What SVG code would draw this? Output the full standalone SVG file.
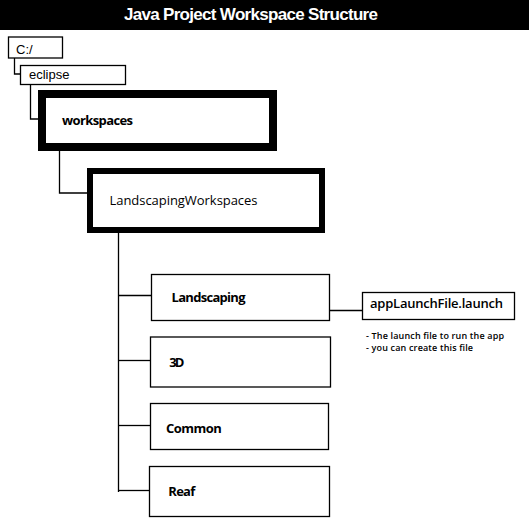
<svg xmlns="http://www.w3.org/2000/svg" width="529" height="531" viewBox="0 0 529 531">
<style>
.box{fill:#fff;stroke:#000;stroke-width:1.3}
.thick{fill:#fff;stroke:#000}
.conn line,.conn polyline{fill:none;stroke:#000;stroke-width:1.3}
.ar{font-family:"Liberation Sans",Arial,sans-serif;font-size:13px;fill:#000}
.cal{font-family:"Open Sans","Noto Sans",sans-serif;font-size:13px;fill:#000}
.b{font-weight:bold}
.note{font-family:"Open Sans","Noto Sans",sans-serif;font-size:9px;font-weight:600;fill:#000}
</style>
<rect x="0" y="0" width="529" height="531" fill="#fff"/>
<g id="title">
<rect x="0" y="0" width="529" height="30" fill="#000"/>
<text x="251" y="20" text-anchor="middle" font-family="Liberation Sans,Arial,sans-serif" font-weight="bold" font-size="17" fill="#fff" textLength="254">Java Project Workspace Structure</text>
</g>
<g class="conn" id="connectors">
<polyline points="14.5,58 14.5,74 21,74"/>
<polyline points="30.5,84 30.5,119 38,119"/>
<polyline points="59.5,151 59.5,193 87,193"/>
<line x1="118.5" y1="233" x2="118.5" y2="492"/>
<line x1="118.5" y1="295.5" x2="151" y2="295.5"/>
<line x1="118.5" y1="360.5" x2="150" y2="360.5"/>
<line x1="118.5" y1="425.5" x2="150" y2="425.5"/>
<line x1="118.5" y1="490.5" x2="149" y2="490.5"/>
<line x1="329" y1="310.5" x2="362" y2="310.5"/>
</g>
<g id="node-c">
<rect class="box" x="8.5" y="37" width="54" height="21"/>
<text class="ar" x="16" y="54">C:/</text>
</g>
<g id="node-eclipse">
<rect class="box" x="20.5" y="65.5" width="105" height="19"/>
<text class="ar" x="29" y="78.5">eclipse</text>
</g>
<g id="node-workspaces">
<rect class="thick" x="42" y="94" width="231" height="53" stroke-width="8"/>
<text class="cal b" x="62" y="124.5" textLength="71">workspaces</text>
</g>
<g id="node-landscapingworkspaces">
<rect class="thick" x="90" y="171" width="232" height="59" stroke-width="6"/>
<text class="cal" x="109.5" y="204.5" textLength="148">LandscapingWorkspaces</text>
</g>
<g id="node-landscaping">
<rect class="box" x="151.5" y="274.5" width="178" height="46"/>
<text class="cal b" x="171.5" y="301.5" textLength="74">Landscaping</text>
</g>
<g id="node-applaunch">
<rect class="box" x="362.5" y="292.5" width="152" height="27"/>
<text class="cal" x="370" y="308" font-size="14" font-weight="600" textLength="133">appLaunchFile.launch</text>
</g>
<g id="note">
<text class="note" x="366" y="339" textLength="138">- The launch file to run the app</text>
<text class="note" x="366" y="351" textLength="107">- you can create this file</text>
</g>
<g id="node-3d">
<rect class="box" x="150.5" y="337" width="180" height="50"/>
<text class="cal b" x="169.3" y="367" textLength="15">3D</text>
</g>
<g id="node-common">
<rect class="box" x="150.5" y="403.5" width="178" height="46"/>
<text class="cal b" x="166" y="432.5" textLength="55.7">Common</text>
</g>
<g id="node-reaf">
<rect class="box" x="149.5" y="466.5" width="180" height="50"/>
<text class="cal b" x="168.3" y="496" textLength="27">Reaf</text>
</g>
</svg>
